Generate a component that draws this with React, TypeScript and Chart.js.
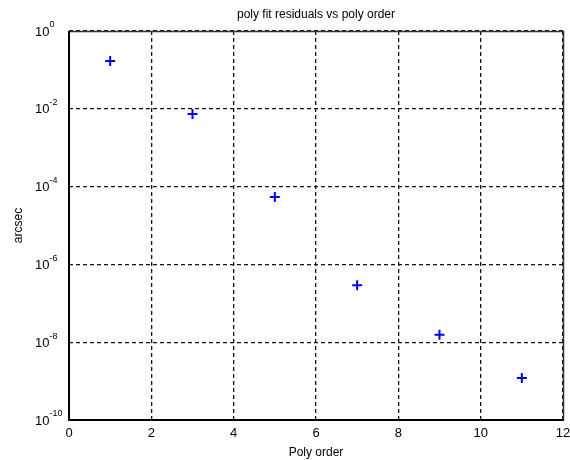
import React, { useEffect, useRef } from "react";
import { Chart, registerables } from "chart.js";

Chart.register(...registerables);

const polyOrders = [1, 3, 5, 7, 9, 11];
const residuals = [0.17, 7.4e-3, 5.4e-5, 2.9e-7, 1.55e-8, 1.2e-9];
const xTickValues = [0, 2, 4, 6, 8, 10, 12];
const yTickExponents = [0, -2, -4, -6, -8, -10];

const FONT = "'Liberation Sans', Arial, sans-serif";

const framePlugin = {
  id: "frameAndLabels",
  afterDraw(chart: any) {
    const { ctx, chartArea } = chart;
    const yScale = chart.scales.y;
    const l = Math.round(chartArea.left);
    const r = Math.round(chartArea.right);
    const t = Math.round(chartArea.top);
    const b = Math.round(chartArea.bottom);
    ctx.save();
    ctx.setLineDash([]);
    ctx.strokeStyle = "#333";
    ctx.lineWidth = 1.5;
    ctx.beginPath();
    ctx.moveTo(l, t + 0.5);
    ctx.lineTo(r + 0.5, t + 0.5);
    ctx.lineTo(r + 0.5, b);
    ctx.stroke();
    ctx.strokeStyle = "#000";
    ctx.lineWidth = 2;
    ctx.beginPath();
    ctx.moveTo(l, t);
    ctx.lineTo(l, b);
    ctx.lineTo(r + 1, b);
    ctx.stroke();
    ctx.fillStyle = "#000";
    ctx.textAlign = "left";
    ctx.textBaseline = "middle";
    for (const e of yTickExponents) {
      const y = yScale.getPixelForValue(Math.pow(10, e));
      ctx.font = `13px ${FONT}`;
      const base = "10";
      const x0 = 35;
      ctx.fillText(base, x0, y + 1);
      const w = ctx.measureText(base).width;
      ctx.font = `9px ${FONT}`;
      ctx.fillText(String(e), x0 + w, y - 6);
    }
    ctx.restore();
  },
};

export default function App() {
  const ref = useRef<HTMLCanvasElement>(null);
  useEffect(() => {
    if (!ref.current) return;
    const chart = new Chart(ref.current, {
      type: "scatter",
      data: {
        datasets: [
          {
            data: polyOrders.map((x, i) => ({ x, y: residuals[i] })),
            pointStyle: "cross",
            pointRadius: 5,
            pointBorderWidth: 2,
            borderColor: "#0000ff",
            backgroundColor: "#0000ff",
            showLine: false,
          },
        ],
      },
      options: {
        animation: false,
        responsive: false,
        layout: { padding: { left: 0, right: 4, top: 0, bottom: 0 } },
        plugins: {
          legend: { display: false },
          tooltip: { enabled: false },
          title: {
            display: true,
            text: "poly fit residuals vs poly order",
            color: "#000",
            font: { family: FONT, size: 12, weight: "normal" },
            fullSize: false,
            padding: { top: 7, bottom: 9.6 },
          },
        },
        scales: {
          x: {
            type: "linear",
            min: 0,
            max: 12,
            afterBuildTicks: (scale: any) => {
              scale.ticks = xTickValues.map((v) => ({ value: v }));
            },
            afterFit: (scale: any) => {
              scale.height = 40;
              scale.paddingLeft = 0;
              scale.paddingRight = 0;
            },
            ticks: {
              color: "#000",
              font: { family: FONT, size: 13 },
              padding: 6,
              maxRotation: 0,
            },
            grid: { color: "#111", lineWidth: 1.3, drawTicks: false },
            border: { display: false, dash: [4, 3] },
            title: {
              display: true,
              text: "Poly order",
              color: "#000",
              font: { family: FONT, size: 12 },
              padding: { top: 0, bottom: 0 },
            },
          },
          y: {
            type: "logarithmic",
            min: 1e-10,
            max: 1,
            afterBuildTicks: (scale: any) => {
              scale.ticks = yTickExponents.map((e) => ({ value: Math.pow(10, e) }));
            },
            afterFit: (scale: any) => {
              scale.width = 69;
              scale.paddingTop = 0;
              scale.paddingBottom = 0;
            },
            ticks: { display: false },
            grid: { color: "#111", lineWidth: 1.3, drawTicks: false },
            border: { display: false, dash: [4, 3] },
            title: {
              display: true,
              text: "arcsec",
              color: "#000",
              font: { family: FONT, size: 12 },
              padding: { top: 11, bottom: 0 },
            },
          },
        },
      },
      plugins: [framePlugin],
    } as any);
    return () => chart.destroy();
  }, []);
  return (
    <div style={{ position: "absolute", left: 0, top: 0, width: 570, height: 460, background: "#fff" }}>
      <canvas ref={ref} width={570} height={460} />
    </div>
  );
}
